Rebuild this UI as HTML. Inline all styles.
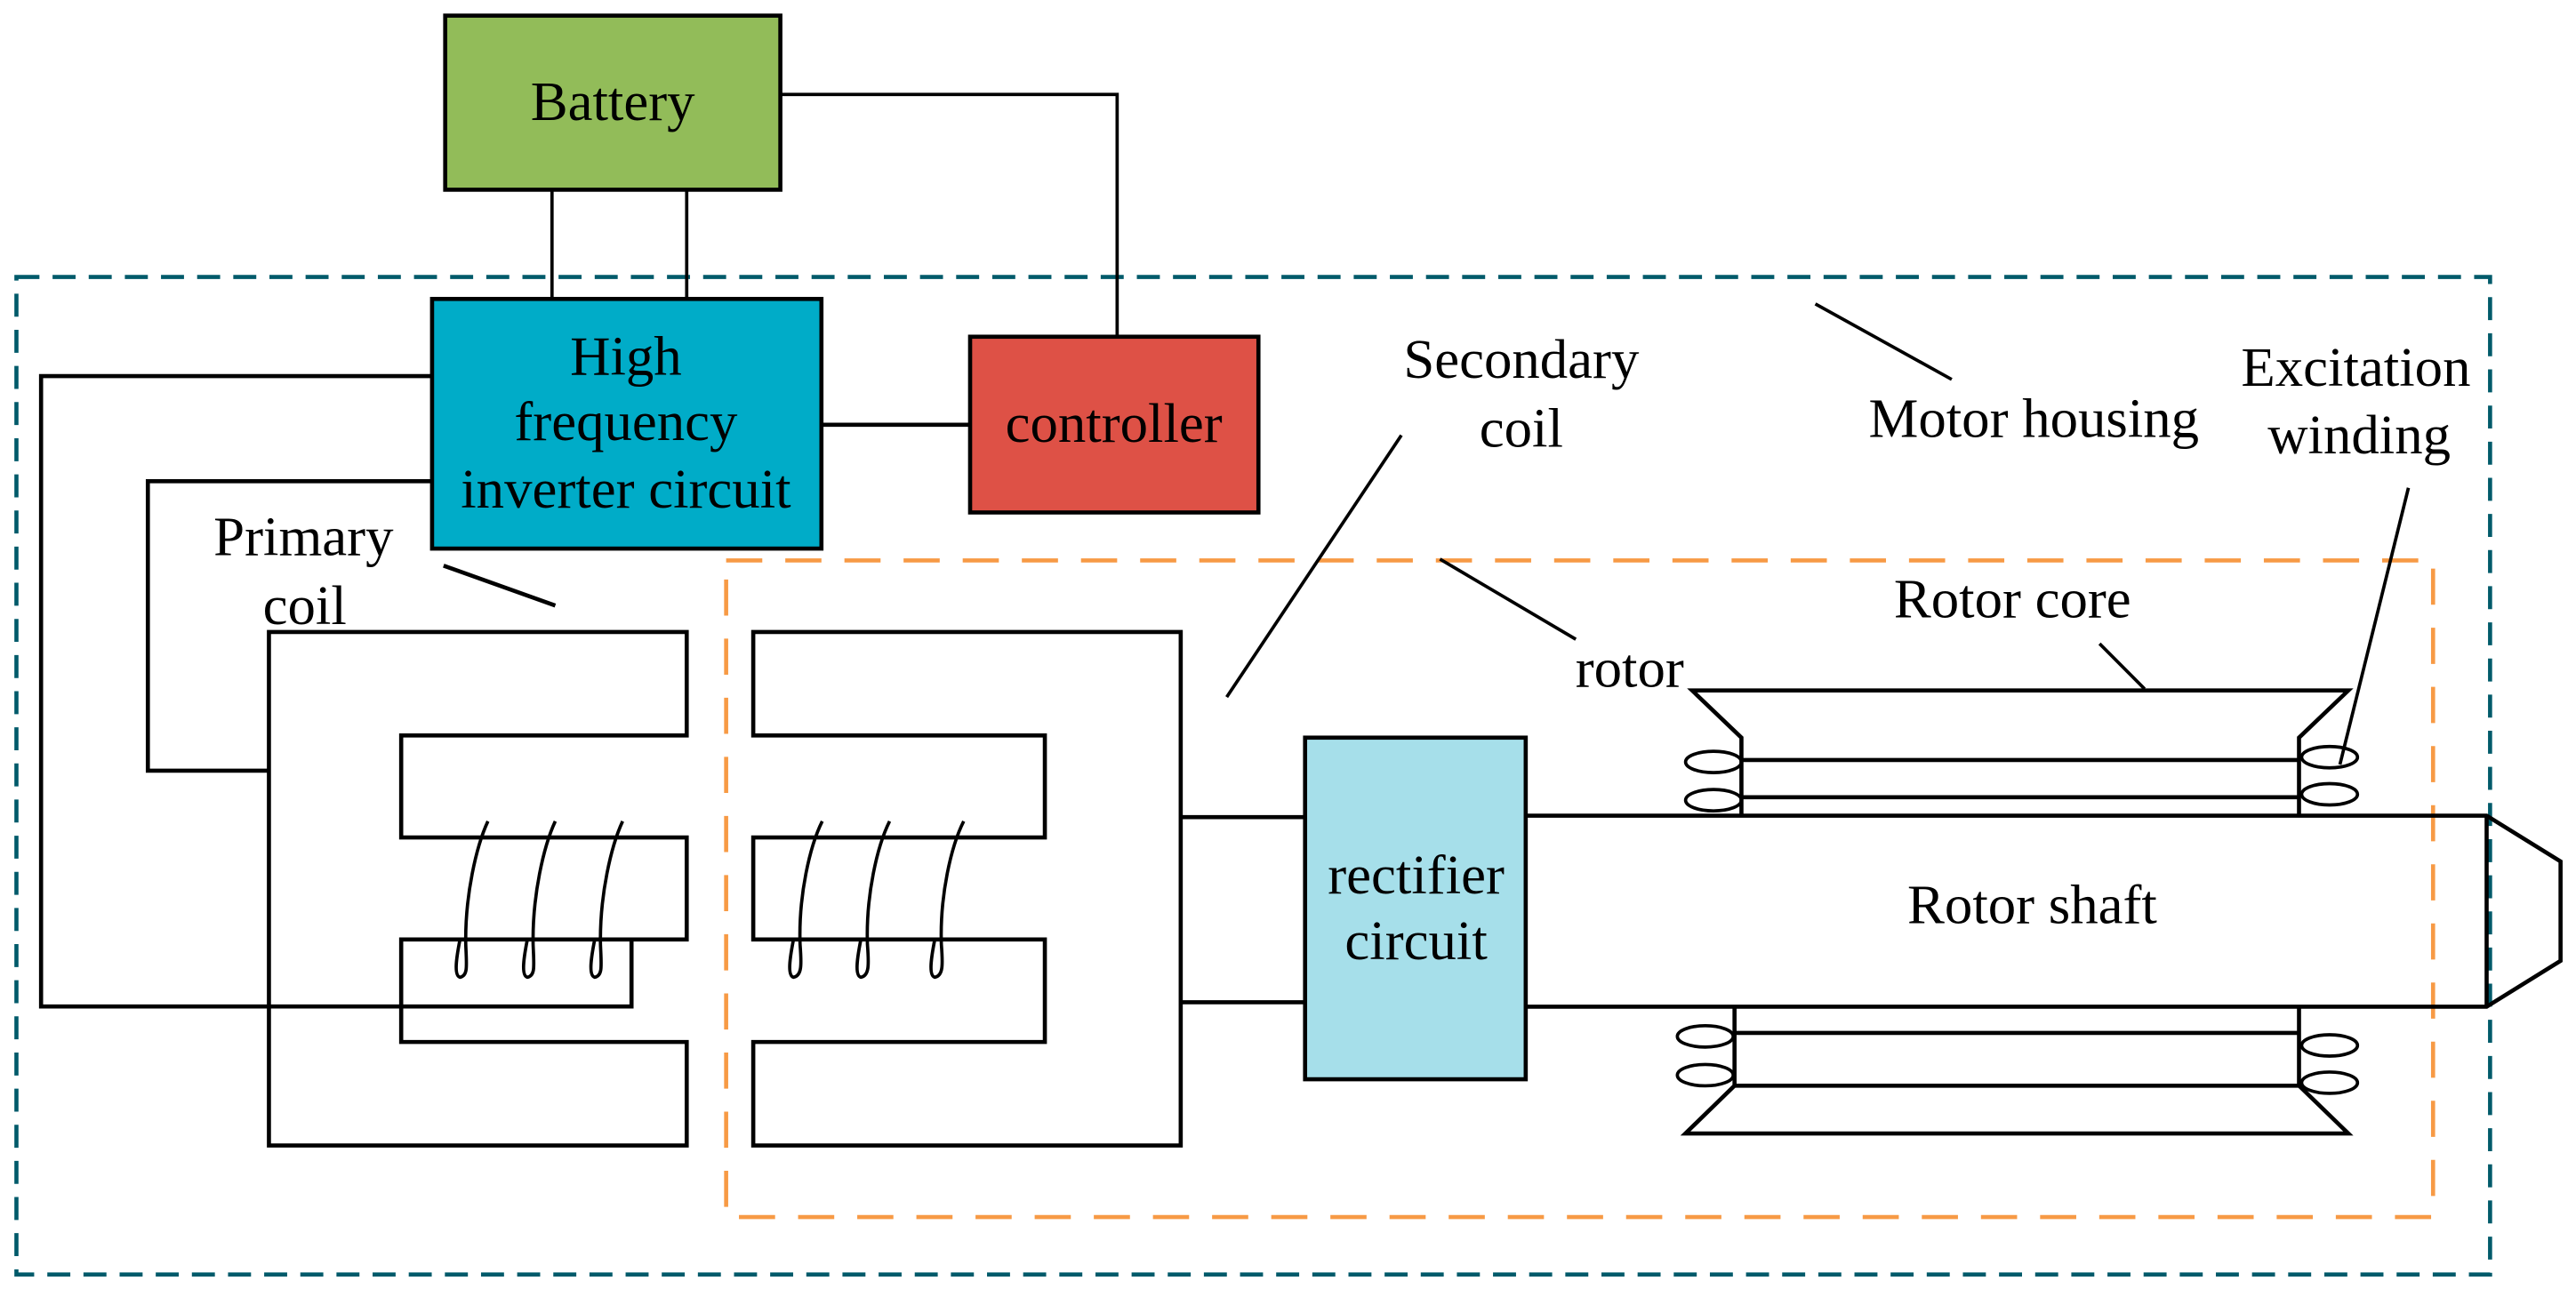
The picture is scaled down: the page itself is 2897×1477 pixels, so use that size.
<!DOCTYPE html>
<html><head><meta charset="utf-8"><style>
html,body{margin:0;padding:0;background:#fff;}
svg{display:block;}
text{font-family:"Liberation Serif",serif;font-size:34px;fill:#000;}
</style></head><body>
<svg width="2897" height="1477" viewBox="0 0 1568 799.4" xmlns="http://www.w3.org/2000/svg">
<rect width="1568" height="800" fill="#fff"/>
<rect x="10" y="168.6" width="1505.7" height="607.4" fill="none" stroke="#005a6a" stroke-width="2.5" stroke-dasharray="14,8"/>
<rect x="442" y="341.2" width="1039" height="399.8" fill="none" stroke="#f79a45" stroke-width="2.5" stroke-dasharray="22,14"/>
<g fill="none" stroke="#000" stroke-width="2" stroke-linejoin="miter">
<line x1="336" y1="115" x2="336" y2="182"/>
<line x1="418" y1="115" x2="418" y2="182"/>
<polyline points="475,57.5 680,57.5 680,205"/>
<line x1="500" y1="258.6" x2="590.5" y2="258.6" stroke-width="2.5"/>
<polyline points="263,229 25,229 25,612.8 384.4,612.8 384.4,572" stroke-width="2.5"/>
<polyline points="263,293 90,293 90,469.2 163.7,469.2" stroke-width="2.5"/>
<polygon points="163.7,384.8 418,384.8 418,447.8 244.2,447.8 244.2,509.9 418,509.9 418,572 244.2,572 244.2,634.4 418,634.4 418,697.4 163.7,697.4" stroke-width="2.5"/>
<polygon points="718.7,384.8 458.5,384.8 458.5,447.8 636,447.8 636,509.9 458.5,509.9 458.5,572 636,572 636,634.4 458.5,634.4 458.5,697.4 718.7,697.4" stroke-width="2.5"/>
<line x1="718.7" y1="497.5" x2="794.4" y2="497.5" stroke-width="2.5"/>
<line x1="718.7" y1="610.2" x2="794.4" y2="610.2" stroke-width="2.5"/>
<g stroke-width="2">
<path d="M297,500 C290,515 283,545 283.5,575 C284,588 285,594 280,595 C276,594 278,582 280,572"/>
<path d="M338,500 C331,515 324,545 324.5,575 C325,588 326,594 321,595 C317,594 319,582 321,572"/>
<path d="M379,500 C372,515 365,545 365.5,575 C366,588 367,594 362,595 C358,594 360,582 362,572"/>
<path d="M500.5,500 C493,515 486,545 487,575 C488,588 488,594 483,595 C479,594 481,582 483,572"/>
<path d="M541.5,500 C534,515 527,545 528,575 C529,588 529,594 524,595 C520,594 522,582 524,572"/>
<path d="M586.6,500 C579,515 572,545 573,575 C574,588 574,594 569,595 C565,594 567,582 569,572"/>
</g>
<polyline points="928.7,496.6 1513.6,496.6 1558.6,524.5 1558.6,585 1513.6,612.9 928.7,612.9" stroke-width="2.5"/>
<line x1="1513.6" y1="496.6" x2="1513.6" y2="612.9" stroke-width="2.5"/>
<polyline points="1060,496.6 1060,449.1 1030,420.4 1429.4,420.4 1399.4,449.1 1399.4,496.6" stroke-width="2.5"/>
<line x1="1060" y1="462.7" x2="1399.4" y2="462.7" stroke-width="2.5"/>
<line x1="1060" y1="485.4" x2="1399.4" y2="485.4" stroke-width="2.5"/>
<polyline points="1055.8,612.9 1055.8,661 1025.9,690.1 1429.4,690.1 1399.4,661 1399.4,612.9" stroke-width="2.5"/>
<line x1="1055.8" y1="628.9" x2="1399.4" y2="628.9" stroke-width="2.5"/>
<line x1="1055.8" y1="661" x2="1399.4" y2="661" stroke-width="2.5"/>
<ellipse cx="1043" cy="463.9" rx="17" ry="6.5"/>
<ellipse cx="1043" cy="487.2" rx="17" ry="6.5"/>
<ellipse cx="1418" cy="461" rx="17" ry="6.5"/>
<ellipse cx="1418" cy="483.6" rx="17" ry="6.5"/>
<ellipse cx="1038" cy="631" rx="17" ry="6.5"/>
<ellipse cx="1038" cy="654.6" rx="17" ry="6.5"/>
<ellipse cx="1418" cy="636.5" rx="17" ry="6.5"/>
<ellipse cx="1418" cy="659.2" rx="17" ry="6.5"/>
<line x1="270" y1="344.4" x2="338" y2="368.7" stroke-width="2.5"/>
<line x1="853" y1="265" x2="746.7" y2="424.4"/>
<line x1="876.5" y1="340.4" x2="959.2" y2="389.2"/>
<line x1="1278" y1="391.9" x2="1305.4" y2="419.4"/>
<line x1="1466" y1="297" x2="1424.3" y2="465.5"/>
<line x1="1105" y1="185" x2="1188" y2="231"/>
</g>
<rect x="271" y="9.5" width="204" height="106" fill="#92bc59" stroke="#000" stroke-width="2.5"/>
<rect x="263" y="182" width="237" height="152" fill="#00acc8" stroke="#000" stroke-width="2.5"/>
<rect x="590.5" y="205" width="175.5" height="107" fill="#de5146" stroke="#000" stroke-width="2.5"/>
<rect x="794.4" y="449.1" width="134.3" height="208" fill="#a6dfea" stroke="#000" stroke-width="2.5"/>
<text x="130" y="338">Primary</text>
<text x="160" y="380">coil</text>
<g text-anchor="middle">
<text x="373" y="73">Battery</text>
<text x="381" y="228">High</text>
<text x="381" y="268">frequency</text>
<text x="381" y="309">inverter circuit</text>
<text x="678" y="269">controller</text>
<text x="926" y="230">Secondary</text>
<text x="926" y="272">coil</text>
<text x="1238" y="266">Motor housing</text>
<text x="1434" y="235">Excitation</text>
<text x="1436" y="276">winding</text>
<text x="1225" y="376">Rotor core</text>
<text x="992" y="418">rotor</text>
<text x="1237" y="562">Rotor shaft</text>
<text x="862" y="544">rectifier</text>
<text x="862" y="584">circuit</text>
</g>
</svg>
</body></html>
